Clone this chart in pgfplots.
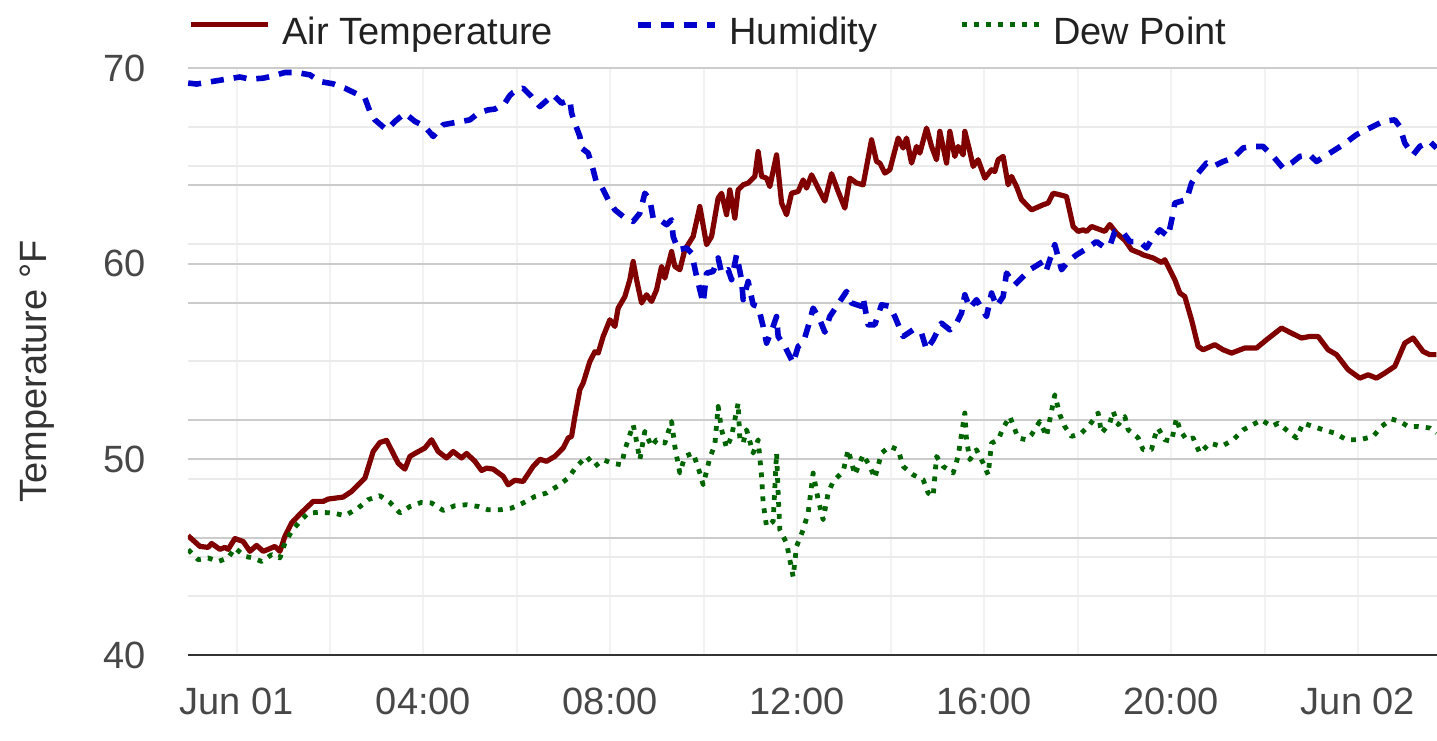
\documentclass[border=0pt]{standalone}
\usepackage{fontspec}
\setmainfont{Liberation Sans}
\usepackage{pgfplots}
\pgfplotsset{compat=1.18}
\usepackage{pgfplotstable}
\definecolor{tempc}{HTML}{800000}
\definecolor{humc}{HTML}{0000CD}
\definecolor{dewc}{HTML}{006400}
\definecolor{gmaj}{HTML}{CCCCCC}
\definecolor{gmin}{HTML}{EBEBEB}
\definecolor{gver}{HTML}{F2F2F2}

\pgfplotstableread{
h v
-1.04 46.1
-0.785 45.55
-0.608 45.5
-0.535 45.7
-0.357 45.4
-0.25 45.5
-0.18 45.4
-0.036 45.95
0.141 45.8
0.285 45.3
0.428 45.6
0.569 45.3
0.676 45.4
0.82 45.55
0.927 45.3
1.034 46.06
1.177 46.75
1.355 47.2
1.639 47.85
1.853 47.85
1.96 47.97
2.281 48.07
2.461 48.36
2.746 49.04
2.923 50.4
3.067 50.86
3.21 50.97
3.458 49.8
3.602 49.5
3.709 50.15
3.816 50.3
4.03 50.58
4.173 51.0
4.314 50.4
4.494 50.07
4.635 50.4
4.815 50.07
4.922 50.3
5.1 49.9
5.243 49.43
5.35 49.55
5.491 49.5
5.705 49.13
5.812 48.7
5.956 48.93
6.133 48.87
6.347 49.64
6.49 50.0
6.634 49.9
6.811 50.15
6.989 50.58
7.096 51.09
7.169 51.17
7.24 52.19
7.346 53.56
7.417 53.9
7.56 55.0
7.667 55.5
7.738 55.43
7.845 56.28
7.988 57.13
8.096 56.79
8.166 57.73
8.31 58.32
8.416 59.18
8.487 60.11
8.56 59.18
8.667 57.99
8.774 58.41
8.881 58.07
8.988 58.67
9.095 59.86
9.165 59.26
9.309 60.62
9.379 59.86
9.486 59.69
9.593 60.71
9.771 61.39
9.914 62.92
10.058 60.97
10.165 61.39
10.306 63.35
10.379 63.6
10.486 62.5
10.556 63.77
10.663 62.33
10.734 63.77
10.841 64.03
10.948 64.12
11.091 64.46
11.162 65.73
11.235 64.46
11.342 64.37
11.412 63.94
11.556 65.56
11.663 63.1
11.77 62.5
11.877 63.6
12.018 63.69
12.125 64.28
12.198 63.86
12.305 64.54
12.446 63.86
12.589 63.2
12.733 64.6
12.874 63.69
13.017 62.84
13.124 64.37
13.268 64.12
13.409 64.03
13.589 66.33
13.696 65.22
13.766 65.14
13.873 64.63
13.98 64.8
14.158 66.42
14.265 65.91
14.338 66.42
14.445 65.14
14.552 65.99
14.622 65.65
14.766 66.93
14.873 65.99
14.98 65.31
15.05 66.76
15.194 65.14
15.264 66.76
15.371 65.48
15.442 65.99
15.549 65.56
15.585 66.76
15.692 65.73
15.763 64.97
15.87 65.31
16.013 64.37
16.157 64.8
16.227 64.71
16.298 65.31
16.405 65.48
16.512 64.03
16.585 64.46
16.692 63.94
16.799 63.27
17.013 62.75
17.261 63.01
17.368 63.1
17.475 63.6
17.618 63.52
17.761 63.43
17.903 61.9
18.01 61.65
18.117 61.73
18.19 61.65
18.297 61.9
18.581 61.65
18.688 62.0
18.832 61.56
19.009 61.2
19.153 60.71
19.33 60.54
19.401 60.45
19.615 60.29
19.795 60.06
19.865 60.2
20.079 59.18
20.186 58.5
20.293 58.32
20.437 57.13
20.578 55.77
20.685 55.6
20.935 55.86
21.113 55.6
21.293 55.43
21.577 55.69
21.828 55.69
22.042 56.11
22.363 56.71
22.576 56.45
22.79 56.2
22.968 56.28
23.146 56.28
23.36 55.6
23.54 55.35
23.788 54.58
24.038 54.15
24.216 54.32
24.395 54.15
24.573 54.41
24.787 54.75
25.001 55.94
25.179 56.2
25.393 55.51
25.536 55.35
25.679 55.35
}\airtemp

\pgfplotstableread{
h v
-1.036 69.23
-0.856 69.18
-0.394 69.36
0.071 69.54
0.285 69.43
0.569 69.48
0.783 69.6
1.034 69.77
1.284 69.77
1.569 69.65
1.783 69.31
2.067 69.19
2.318 68.97
2.532 68.72
2.746 68.46
2.853 67.78
2.96 67.35
3.21 66.84
3.388 67.27
3.602 67.69
3.816 67.27
4.03 67.01
4.207 66.5
4.421 67.1
4.601 67.18
4.815 67.27
4.993 67.35
5.17 67.69
5.384 67.86
5.528 67.9
5.741 68.2
5.848 68.6
5.919 68.75
6.133 68.97
6.313 68.54
6.49 68.03
6.775 68.63
6.955 68.2
7.132 68.37
7.17 67.69
7.24 67.18
7.346 66.5
7.383 65.91
7.524 65.65
7.631 64.8
7.704 64.12
7.811 63.94
7.952 63.27
8.096 62.75
8.273 62.41
8.487 62.16
8.63 62.58
8.737 63.6
8.844 63.27
8.915 62.33
9.058 62.24
9.202 61.99
9.309 62.24
9.343 61.39
9.45 60.71
9.63 60.8
9.737 60.54
9.844 59.35
9.985 57.99
10.058 59.52
10.199 59.6
10.306 60.29
10.379 59.52
10.52 59.69
10.593 59.18
10.7 60.45
10.807 59.18
10.841 58.16
10.948 59.09
11.055 57.9
11.162 57.82
11.269 56.79
11.342 55.94
11.483 56.79
11.556 57.3
11.59 56.28
11.734 55.77
11.911 54.92
12.018 55.77
12.125 55.94
12.232 56.79
12.339 57.73
12.482 57.13
12.589 56.5
12.696 57.3
12.84 57.82
13.054 58.58
13.161 57.99
13.375 57.82
13.409 58.24
13.516 56.88
13.659 56.88
13.803 57.9
13.98 57.82
14.087 57.3
14.265 56.28
14.479 56.62
14.659 56.45
14.766 55.6
14.907 56.11
15.086 56.96
15.264 56.62
15.407 56.96
15.514 57.47
15.585 58.41
15.692 57.73
15.835 58.16
16.049 57.3
16.157 58.5
16.264 57.82
16.405 58.32
16.477 59.52
16.655 58.92
16.799 59.26
16.976 59.69
17.261 60.11
17.334 59.69
17.511 60.97
17.655 59.69
17.796 60.11
17.975 60.45
18.153 60.71
18.403 61.13
18.545 60.88
18.688 60.9
18.795 61.65
18.973 61.6
19.116 61.13
19.33 61.13
19.474 60.8
19.58 61.22
19.758 61.73
19.936 61.39
20.043 62.58
20.079 63.1
20.33 63.27
20.437 64.12
20.578 64.63
20.757 65.14
20.899 64.97
21.113 65.22
21.327 65.4
21.541 65.91
21.72 65.99
21.969 65.99
22.183 65.48
22.397 64.88
22.576 65.14
22.754 65.48
22.968 65.56
23.111 65.22
23.396 65.65
23.681 66.08
23.967 66.59
24.253 66.93
24.537 67.27
24.787 67.35
24.894 67.01
25.001 66.16
25.179 65.56
25.322 65.99
25.536 66.25
25.679 65.91
}\humidity

\pgfplotstableread{
h v
-1.036 45.38
-0.822 44.87
-0.608 44.96
-0.394 44.78
-0.18 44.96
-0.036 45.47
0.178 45.04
0.355 44.96
0.535 44.78
0.749 45.13
0.927 44.96
1.034 45.72
1.177 46.32
1.355 46.83
1.532 47.26
1.783 47.29
2.067 47.26
2.318 47.12
2.602 47.51
2.816 47.94
3.067 48.14
3.281 47.8
3.495 47.26
3.709 47.59
3.959 47.8
4.173 47.77
4.421 47.39
4.672 47.63
4.922 47.68
5.17 47.59
5.384 47.42
5.635 47.42
5.885 47.51
6.133 47.77
6.383 48.1
6.634 48.28
6.882 48.65
7.096 49.04
7.276 49.64
7.49 50.15
7.667 49.64
7.845 49.98
8.025 49.81
8.239 49.72
8.31 50.49
8.487 51.77
8.54 51.17
8.63 49.98
8.737 51.43
8.881 50.66
8.988 51.0
9.165 50.83
9.309 51.94
9.379 50.66
9.486 49.3
9.593 50.15
9.771 50.32
9.914 49.3
9.985 48.7
10.128 50.07
10.235 50.75
10.306 52.7
10.379 51.51
10.486 50.58
10.593 51.17
10.734 52.88
10.77 51.0
10.841 50.83
10.914 51.51
11.055 50.32
11.162 51.0
11.235 49.13
11.269 47.77
11.342 46.57
11.483 46.83
11.556 50.32
11.59 48.28
11.626 46.4
11.77 45.72
11.911 44.0
11.984 45.55
12.125 46.4
12.232 47.26
12.339 49.3
12.446 47.94
12.553 46.91
12.66 48.28
12.767 48.87
12.981 49.38
13.088 50.49
13.231 49.21
13.409 50.24
13.553 49.64
13.659 49.04
13.803 50.32
13.98 50.66
14.158 50.49
14.265 49.64
14.479 49.21
14.693 48.96
14.8 48.28
14.907 48.1
14.98 50.15
15.121 49.64
15.335 49.3
15.442 50.15
15.585 52.37
15.621 51.0
15.692 49.98
15.835 50.49
15.977 49.81
16.084 49.21
16.157 50.83
16.298 51.0
16.405 51.6
16.548 52.19
16.726 51.09
16.905 51.0
17.013 51.26
17.19 51.94
17.334 51.17
17.404 52.02
17.511 53.3
17.618 52.28
17.725 51.68
17.868 51.17
18.082 51.34
18.26 51.77
18.438 52.37
18.51 51.34
18.688 51.85
18.759 52.45
18.866 51.77
19.009 52.19
19.08 51.51
19.294 51.1
19.401 50.49
19.58 50.49
19.651 51.17
19.722 51.6
19.865 51.0
20.008 50.92
20.116 52.11
20.186 51.51
20.33 51.0
20.471 51.09
20.614 50.32
20.828 50.83
21.079 50.66
21.327 51.0
21.541 51.51
21.684 51.68
21.934 52.02
22.148 51.68
22.29 51.85
22.504 51.43
22.684 51.09
22.825 51.85
23.039 51.68
23.253 51.51
23.504 51.34
23.754 51.0
24.038 51.0
24.323 51.17
24.502 51.68
24.716 52.06
24.894 51.94
25.071 51.68
25.285 51.68
25.536 51.6
25.679 51.34
}\dewpoint

\begin{document}
\begin{tikzpicture}
\useasboundingbox (-94pt,-42.5pt) rectangle (624.5pt,327.5pt);
\begin{axis}[
  at={(0,0)}, anchor=south west,
  scale only axis, width=624.5pt, height=293.5pt,
  xmin=-1.04, xmax=25.69, ymin=40, ymax=70,
  axis lines=left, axis line style={-},
  y axis line style={draw=none},
  x axis line style={draw=black!80, line width=1pt},
  major tick length=0pt, minor tick length=0pt,
  xtick={0,4,...,24},
  xticklabels={Jun 01,04:00,08:00,12:00,16:00,20:00,Jun 02},
  minor xtick={2,6,10,14,18,22},
  ytick={40,46,50,52,58,60,64,70},
  yticklabels={40,{},50,{},{},60,{},70},
  minor ytick={43,45,49,55,61,65,67},
  xmajorgrids, xminorgrids, ymajorgrids, yminorgrids,
  major x grid style={gver, line width=1pt},
  minor x grid style={gver, line width=1pt},
  major y grid style={gmaj, line width=1pt},
  minor y grid style={gmin, line width=1pt},
  tick label style={font=\fontsize{19}{22}\selectfont, text=black!72, inner sep=0pt},
  xticklabel style={anchor=center, yshift=-23.25pt},
  yticklabel style={anchor=east, xshift=-21pt},
  ylabel={Temperature °F},
  ylabel style={at={(axis description cs:-0.1209,0.483)}, anchor=center, font=\fontsize{19}{22}\selectfont, text=black!80},
  legend columns=3,
  legend style={at={(axis description cs:0,1)}, anchor=west, yshift=18pt,
    draw=none, fill=none, inner sep=0pt,
    font=\fontsize{19}{22}\selectfont, text=black!87,
    nodes={inner sep=0pt},
    /tikz/every odd column/.append style={column sep=6pt},
    /tikz/every even column/.append style={column sep=41pt}},
  legend image code/.code={\draw[#1] (-1.5pt,0.36em) -- (37pt,0.36em);},
  line join=round,
]
\addplot[tempc, line width=2.6pt] table[x=h, y=v] {\airtemp};
\addlegendentry{Air Temperature}
\addplot[humc, line width=2.8pt, dash pattern=on 6.5pt off 5pt] table[x=h, y=v] {\humidity};
\addlegendentry{Humidity}
\addplot[dewc, line width=2.4pt, dash pattern=on 2.4pt off 3.6pt] table[x=h, y=v] {\dewpoint};
\addlegendentry{Dew Point}
\end{axis}
\end{tikzpicture}
\end{document}
